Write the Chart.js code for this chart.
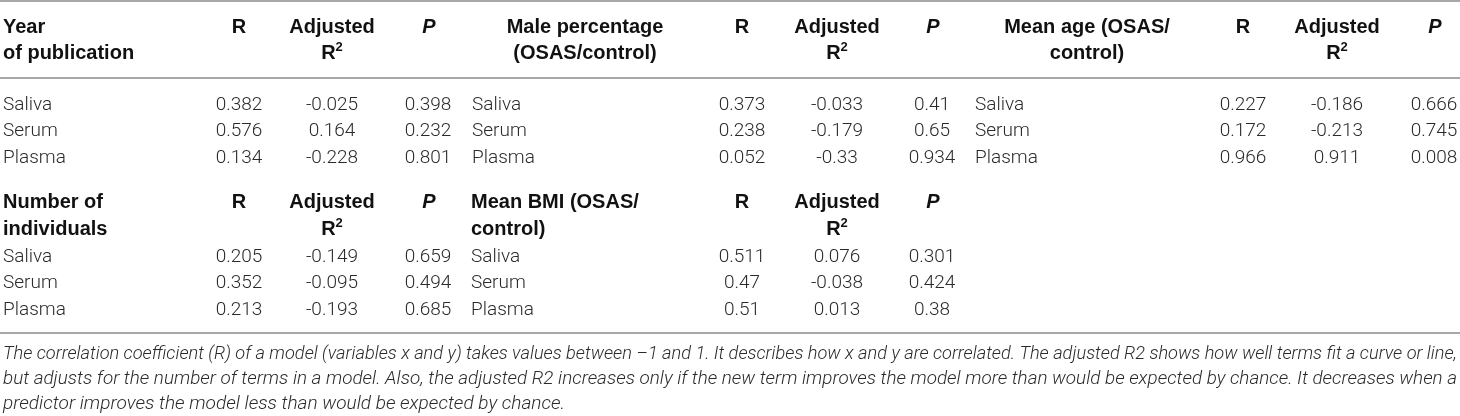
<!DOCTYPE html>
<html>
<head>
<meta charset="utf-8">
<script src="https://cdn.jsdelivr.net/npm/chart.js@4.4.1/dist/chart.umd.min.js"></script>
<style>
  body { margin: 0; background: #fff; }
  #table-chart { display: block; }
</style>
</head>
<body>
<canvas id="table-chart" width="1460" height="416"></canvas>
<script>
const rowLabels = ['Saliva', 'Serum', 'Plasma']
const statHeaders = ['R', 'Adjusted', 'P']

const yearTitle = ['Year', 'of publication']
const yearR = [0.382, 0.576, 0.134]
const yearAdjR2 = [-0.025, 0.164, -0.228]
const yearP = [0.398, 0.232, 0.801]

const maleTitle = ['Male percentage', '(OSAS/control)']
const maleR = [0.373, 0.238, 0.052]
const maleAdjR2 = [-0.033, -0.179, -0.33]
const maleP = [0.41, 0.65, 0.934]

const ageTitle = ['Mean age (OSAS/', 'control)']
const ageR = [0.227, 0.172, 0.966]
const ageAdjR2 = [-0.186, -0.213, 0.911]
const ageP = [0.666, 0.745, 0.008]

const numTitle = ['Number of', 'individuals']
const numR = [0.205, 0.352, 0.213]
const numAdjR2 = [-0.149, -0.095, -0.193]
const numP = [0.659, 0.494, 0.685]

const bmiTitle = ['Mean BMI (OSAS/', 'control)']
const bmiR = [0.511, 0.47, 0.51]
const bmiAdjR2 = [0.076, -0.038, 0.013]
const bmiP = [0.301, 0.424, 0.38]

const captionLines = [
    'The correlation coefficient (R) of a model (variables x and y) takes values between \u20131 and 1. It describes how x and y are correlated. The adjusted R2 shows how well terms fit a curve or line,',
    'but adjusts for the number of terms in a model. Also, the adjusted R2 increases only if the new term improves the model more than would be expected by chance. It decreases when a',
    'predictor improves the model less than would be expected by chance.'
]

// layout (scale units == pixels of the page)
const fontBold = 'bold 20px "Liberation Sans", Arial, sans-serif'
const fontBoldItalic = 'italic bold 20px "Liberation Sans", Arial, sans-serif'
const fontSup = 'bold 13px "Liberation Sans", Arial, sans-serif'
const fontData = '300 19px Roboto, "Liberation Sans", sans-serif'
const fontCaption = 'italic 300 19px Roboto, "Liberation Sans", sans-serif'

// each block: where the title sits and where the R / Adj / P columns are centred
const blocks = [
    {title: yearTitle, r: yearR, adj: yearAdjR2, p: yearP, labelX: 3, titleX: 3, titleAlign: 'left', cols: [239, 332, 428], top: 0},
    {title: maleTitle, r: maleR, adj: maleAdjR2, p: maleP, labelX: 472, titleX: 585, titleAlign: 'center', cols: [742, 837, 932], top: 0},
    {title: ageTitle, r: ageR, adj: ageAdjR2, p: ageP, labelX: 975, titleX: 1087, titleAlign: 'center', cols: [1243, 1337, 1434], top: 0},
    {title: numTitle, r: numR, adj: numAdjR2, p: numP, labelX: 3, titleX: 3, titleAlign: 'left', cols: [239, 332, 428], top: 1},
    {title: bmiTitle, r: bmiR, adj: bmiAdjR2, p: bmiP, labelX: 471, titleX: 471, titleAlign: 'left', cols: [742, 837, 932], top: 1}
]
const sections = [
    {head: [27, 53], rows: [105, 131, 158]},
    {head: [202, 229], rows: [257, 283, 310]}
]
const rules = [1, 78, 333]
const captionY = [354, 379, 404]
const captionWidth = [1454, 1454, 562]

function buildCells() {
    let cells = []
    blocks.forEach(b => {
        let sec = sections[b.top]
        cells.push({x: b.titleX, y: sec.head[0], text: b.title[0], font: fontBold, align: b.titleAlign, head: true})
        cells.push({x: b.titleX, y: sec.head[1], text: b.title[1], font: fontBold, align: b.titleAlign, head: true})
        cells.push({x: b.cols[0], y: sec.head[0], text: statHeaders[0], font: fontBold, align: 'center', head: true})
        cells.push({x: b.cols[1], y: sec.head[0], text: statHeaders[1], font: fontBold, align: 'center', head: true})
        cells.push({x: b.cols[1], y: sec.head[1], text: 'R', sup: '2', font: fontBold, align: 'center', head: true})
        cells.push({x: b.cols[2] + 1, y: sec.head[0], text: statHeaders[2], font: fontBoldItalic, align: 'center', head: true})
        rowLabels.forEach((lab, i) => {
            let y = sec.rows[i]
            cells.push({x: b.labelX, y: y, text: lab, font: fontData, align: 'left'})
            cells.push({x: b.cols[0], y: y, text: String(b.r[i]), font: fontData, align: 'center'})
            cells.push({x: b.cols[1], y: y, text: String(b.adj[i]), font: fontData, align: 'center'})
            cells.push({x: b.cols[2], y: y, text: String(b.p[i]), font: fontData, align: 'center'})
        })
    })
    captionLines.forEach((line, i) => {
        cells.push({x: 3, y: captionY[i], text: line, font: fontCaption, align: 'left', caption: i})
    })
    return cells
}

function buildRules() {
    return rules.map(y => ({
        type: 'line',
        data: [{x: 0, y: y}, {x: 1460, y: y}],
        borderColor: '#a8a8a8',
        borderWidth: 2,
        pointRadius: 0,
        showLine: true
    }))
}

const tableText = {
    id: 'tableText',
    afterDatasetsDraw(chart) {
        const ctx = chart.ctx
        chart.data.datasets.forEach((ds, i) => {
            if (ds.kind !== 'text') return
            const meta = chart.getDatasetMeta(i)
            meta.data.forEach((pt, j) => {
                const cell = ds.data[j]
                ctx.save()
                ctx.font = cell.font
                ctx.fillStyle = cell.head ? '#111' : '#2a2a2a'
                ctx.textBaseline = 'middle'
                if (cell.caption !== undefined) {
                    // stretch / squeeze each caption line to the width it has in the source
                    let k = captionWidth[cell.caption] / ctx.measureText(cell.text).width
                    ctx.textAlign = 'left'
                    ctx.translate(pt.x, pt.y)
                    ctx.scale(k, 1)
                    ctx.fillText(cell.text, 0, 0)
                } else if (cell.sup) {
                    let w1 = ctx.measureText(cell.text).width
                    ctx.font = fontSup
                    let w2 = ctx.measureText(cell.sup).width
                    let x0 = pt.x - (w1 + w2) / 2
                    ctx.textAlign = 'left'
                    ctx.fillText(cell.sup, x0 + w1, pt.y - 6)
                    ctx.font = cell.font
                    ctx.fillText(cell.text, x0, pt.y)
                } else {
                    ctx.textAlign = cell.align
                    ctx.fillText(cell.text, pt.x, pt.y)
                }
                ctx.restore()
            })
        })
    }
}

function makeTableChart() {
    let canvas = document.getElementById('table-chart')
    let datasets = buildRules()
    datasets.push({
        kind: 'text',
        type: 'scatter',
        data: buildCells(),
        pointRadius: 0,
        pointHoverRadius: 0
    })
    return new Chart(canvas, {
        type: 'scatter',
        data: {datasets: datasets},
        options: {
            responsive: false,
            animation: false,
            events: [],
            layout: {padding: 0},
            plugins: {legend: {display: false}, tooltip: {enabled: false}},
            scales: {
                x: {type: 'linear', min: 0, max: 1460, display: false},
                y: {type: 'linear', min: 0, max: 416, reverse: true, display: false}
            }
        },
        plugins: [tableText]
    })
}
tableChart = makeTableChart()
</script>
</body>
</html>
